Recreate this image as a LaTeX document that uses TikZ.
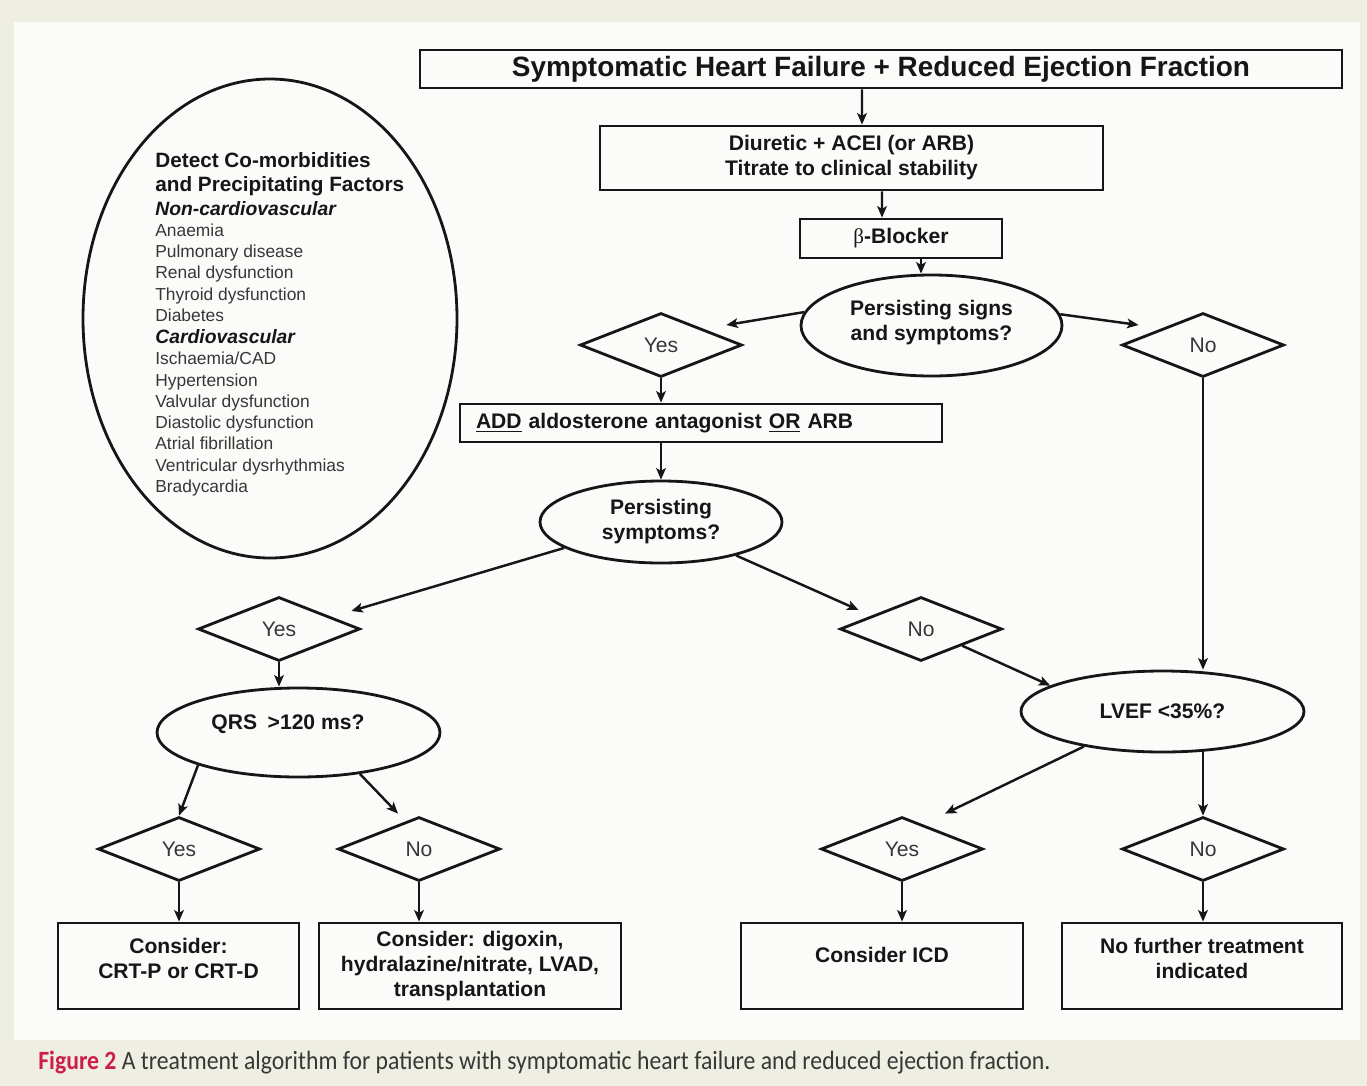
\documentclass[tikz,border=0pt]{standalone}
\usepackage{fontspec}
\setmainfont{Liberation Sans}
\newfontfamily\capfont[FakeStretch=0.9]{Carlito}
\newfontfamily\greekserif{Liberation Serif}
\usetikzlibrary{shapes.geometric,arrows.meta,calc}
\definecolor{bgout}{RGB}{238,238,226}
\definecolor{bgin}{RGB}{251,251,249}
\definecolor{ink}{RGB}{22,22,22}
\definecolor{soft}{RGB}{55,55,55}
\definecolor{figred}{RGB}{205,30,72}
\def\px{0.02cm}
\begin{document}
\begin{tikzpicture}[x=0.02cm,y=-0.02cm,
  shp/.style={draw=ink, line width=1.6pt, inner sep=0pt, text=ink},
  box/.style={shp, rectangle, font=\bfseries\fontsize{12}{14.2}\selectfont, align=center},
  oval/.style={shp, ellipse, font=\bfseries\fontsize{12}{14.2}\selectfont, align=center},
  dia/.style={shp, diamond, minimum width=162*\px, minimum height=64*\px,
    font=\fontsize{12}{14}\selectfont, text=soft},
  btxt/.style={inner sep=0pt, text=ink, font=\bfseries\fontsize{12}{14.2}\selectfont, align=center},
  head/.style={anchor=base west, inner sep=0pt, text=ink, font=\bfseries\fontsize{11.8}{13}\selectfont},
  sub/.style={anchor=base west, inner sep=0pt, text=ink, font=\bfseries\itshape\fontsize{11}{13}\selectfont},
  item/.style={anchor=base west, inner sep=0pt, text=soft, font=\fontsize{9.9}{12}\selectfont},
  arr/.style={draw=ink, line width=1.4pt, -{Stealth[length=6.5pt,width=5.5pt,inset=1.5pt]}}
]
\useasboundingbox (0,0) rectangle (1367,1086);
\fill[bgout] (0,0) rectangle (1367,1086);
\fill[bgin] (14,22) rectangle (1360,1040);

% main flow
\node[box, minimum width=922*\px, minimum height=38*\px, font=\bfseries\fontsize{15.9}{18}\selectfont]
  (title) at (881,69) {Symptomatic Heart Failure + Reduced Ejection Fraction};
\node[box, minimum width=503*\px, minimum height=64*\px] (b2) at (851.5,158)
  {Diuretic + ACEI (or ARB)\\Titrate to clinical stability};
\node[box, minimum width=202*\px, minimum height=39*\px] (bb) at (901,238.5) {{\greekserif\mdseries β}-Blocker};
\node[oval, minimum width=261*\px, minimum height=101*\px] (e1) at (931.5,325.5)
  {Persisting signs\\and symptoms?\\[-8.6pt]};
\node[dia] (yes1) at (661,345) {Yes};
\node[dia] (no1) at (1203,345) {No};
\node[box, minimum height=38*\px, text width=450*\px, inner xsep=16*\px, align=left] (add) at (701,423)
  {\underline{ADD} aldosterone antagonist \underline{OR} ARB};
\node[oval, minimum width=242*\px, minimum height=82*\px] (e2) at (661,522)
  {Persisting\\symptoms?};
\node[dia] (yes2) at (279,629) {Yes};
\node[dia] (no2) at (921,629) {No};
\node[oval, minimum width=283*\px, minimum height=81*\px] (lvef) at (1162.5,711.5) {LVEF <35\%?};
\node[oval, minimum width=283*\px, minimum height=89*\px] (qrs) at (298.5,732.5) {QRS\enspace>120 ms?\hspace*{12pt}\\[-2.9pt]};
\node[dia] (yes3) at (179,849) {Yes};
\node[dia] (no3) at (419,849) {No};
\node[dia] (yes4) at (902,849) {Yes};
\node[dia] (no4) at (1203,849) {No};

\node[box, minimum width=241*\px, minimum height=86*\px] (bA) at (178.5,966) {};
\node[box, minimum width=302*\px, minimum height=86*\px] (bB) at (470,966) {};
\node[box, minimum width=282*\px, minimum height=86*\px] (bC) at (882,966) {};
\node[box, minimum width=280*\px, minimum height=86*\px] (bD) at (1202,966) {};
\node[btxt] (tA) at (178.5,958) {Consider:\\CRT-P or CRT-D};
\node[btxt] (tB) at (470,966) {Consider: digoxin,\\hydralazine/nitrate, LVAD,\\transplantation};
\node[btxt] (tC) at (882,955) {Consider ICD};
\node[btxt] (tD) at (1202,958) {No further treatment\\indicated};

% co-morbidities
\node[shp, ellipse, minimum width=374*\px, minimum height=479*\px] (cm) at (270,318.5) {};
\node[head] (l1) at (155,167) {Detect Co-morbidities};
\node[head] (l2) at (155,191) {and Precipitating Factors};
\node[sub] (l3) at (155,215) {Non-cardiovascular};
\node[item] (l4) at (155,236) {Anaemia};
\node[item] (l5) at (155,257.5) {Pulmonary disease};
\node[item] (l6) at (155,278.5) {Renal dysfunction};
\node[item] (l7) at (155,300) {Thyroid dysfunction};
\node[item] (l8) at (155,321) {Diabetes};
\node[sub] (l9) at (155,343) {Cardiovascular};
\node[item] (l10) at (155,364) {Ischaemia/CAD};
\node[item] (l11) at (155,386) {Hypertension};
\node[item] (l12) at (155,407) {Valvular dysfunction};
\node[item] (l13) at (155,428) {Diastolic dysfunction};
\node[item] (l14) at (155,449) {Atrial fibrillation};
\node[item] (l15) at (155,471) {Ventricular dysrhythmias};
\node[item] (l16) at (155,492) {Bradycardia};

% connectors
\draw[arr] ([xshift=-19*\px]title.south) -- ([xshift=10.5*\px]b2.north);
\draw[arr] ([xshift=30.5*\px]b2.south) -- ([xshift=-19*\px]bb.north);
\draw[arr] ([xshift=20*\px]bb.south) -- ([xshift=-10.5*\px]e1.north);
\draw[arr] (e1.174) -- ($(yes1.east)+(-17,-20)$);
\draw[arr] (e1.5) -- ($(no1.west)+(18,-20)$);
\draw[arr] (yes1.south) -- (yes1.south |- add.north);
\draw[arr] (e2.north |- add.south) -- (e2.north);
\draw[arr] (e2.195) -- ($(yes2.east)+(-10,-18)$);
\draw[arr] (e2.336) -- ($(no2.west)+(20,-19)$);
\draw[arr] (no2.south east) -- (lvef.167);
\draw[arr] (no1.south) -- (no1.south |- lvef.north);
\draw[arr] (yes2.south) -- (yes2.south |- qrs.north);
\draw[arr] (qrs.198) -- (yes3.north);
\draw[arr] (qrs.326) -- ($(no3.north)+(-21,-2)$);
\draw[arr] (yes3.south) -- (yes3.south |- bA.north);
\draw[arr] (no3.south) -- (no3.south |- bB.north);
\draw[arr] (lvef.204) -- ($(yes4.north)+(43,-2)$);
\draw[arr] ([yshift=2*\px]no4.north |- lvef.south) -- (no4.north);
\draw[arr] (yes4.south) -- (yes4.south |- bC.north);
\draw[arr] (no4.south) -- (no4.south |- bD.north);

% caption
\node[anchor=base west, inner sep=0pt, text=soft, font=\capfont\fontsize{15}{17}\selectfont] (cap) at (38,1069)
  {{\color{figred}\bfseries Figure 2} A treatment algorithm for patients with symptomatic heart failure and reduced ejection fraction.};
\end{tikzpicture}
\end{document}
